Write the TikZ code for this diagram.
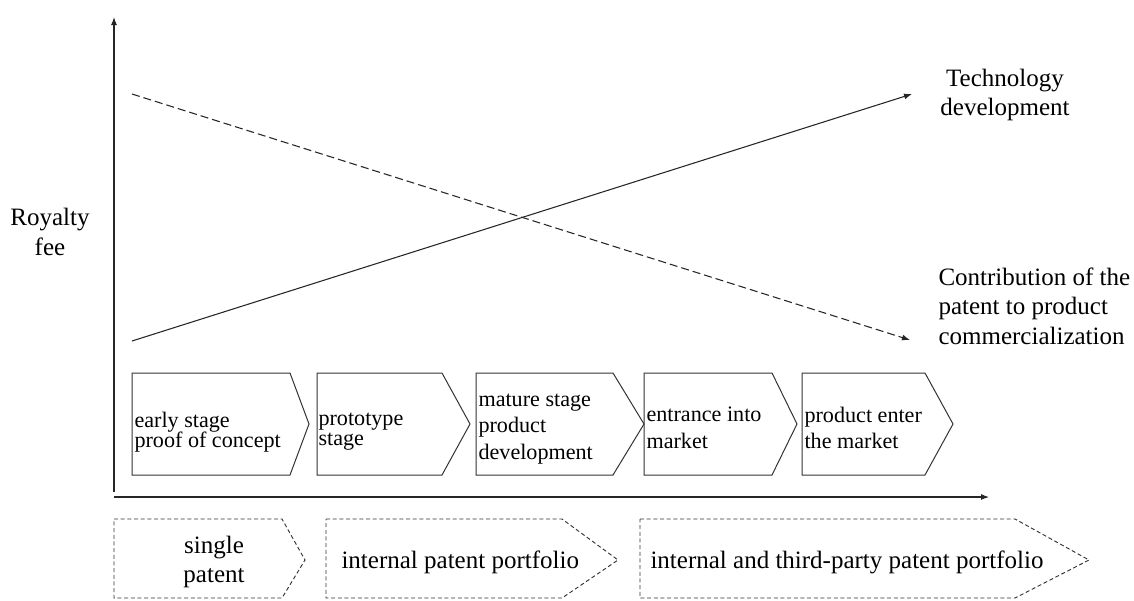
\documentclass[tikz,border=0pt]{standalone}
\usepackage{fontspec}
\newfontfamily\timesfont{Liberation Serif}
\usetikzlibrary{arrows.meta}

\newcommand{\stagefont}[1]{\timesfont\fontsize{16.6}{#1}\selectfont\lineskiplimit-20pt\relax}

\begin{document}
\begin{tikzpicture}[x=0.75pt, y=-0.75pt, line width=0.8pt,
  axis/.style={draw=black!85, -{Latex[length=6pt,width=4.5pt]}},
  trend/.style={draw=black!85, -{Latex[length=6pt,width=4.5pt]}},
  stagebox/.style={draw=black!80, line width=0.75pt},
  patentbox/.style={draw=black!80, line width=0.7pt, dash pattern=on 3pt off 2pt},
  lbl/.style={inner sep=0pt, align=center, font=\timesfont\fontsize{18.75}{22}\selectfont},
  tighttext/.style={anchor=west, inner sep=0pt, align=left, font={\stagefont{15}}},
  loosetext/.style={anchor=west, inner sep=0pt, align=left, font={\stagefont{20}}}
]
  \useasboundingbox (0,0) rectangle (1134,600);

  % axes
  \coordinate (origin) at (114,497);
  \coordinate (ytop) at (114,17);
  \coordinate (xend) at (989,497);
  \draw[axis] (114,492) -- (ytop); % y axis
  \draw[axis] (origin) -- (xend); % x axis

  % trend lines
  \coordinate (techstart) at (132,341);
  \coordinate (techend) at (912,94);
  \coordinate (contribstart) at (132,94);
  \coordinate (contribend) at (910,340);
  \draw[trend] (techstart) -- (techend);
  \draw[trend, dash pattern=on 6pt off 3pt] (contribstart) -- (contribend);

  % labels
  \node[lbl] (royalty) at (50,232) {Royalty\\fee};
  \node[lbl] (tech) at (1005,95) {Technology\\development};
  \node[lbl, align=left, anchor=west] (contrib) at (938,306) {Contribution of the\\patent to product\\commercialization};

  % development stages
  \draw[stagebox] (132,373) -- (290,373) -- (309,424) -- (290,475) -- (132,475) -- cycle;
  \draw[stagebox] (317,373) -- (442,373) -- (470,424) -- (442,475) -- (317,475) -- cycle;
  \draw[stagebox] (476,373) -- (613,373) -- (644,424) -- (613,475) -- (476,475) -- cycle;
  \draw[stagebox] (644,373) -- (772,373) -- (797,424) -- (772,475) -- (644,475) -- cycle;
  \draw[stagebox] (802,373) -- (925,373) -- (953,424) -- (925,475) -- (802,475) -- cycle;

  \node[tighttext] (early) at (134,432) {early stage\\proof of concept};
  \node[tighttext] (proto) at (318,432) {prototype\\stage};
  \node[loosetext] (mature) at (478,429) {mature stage\\product\\development};
  \node[loosetext] (entrance) at (646,428) {entrance into\\market};
  \node[loosetext] (enter) at (804,428) {product enter\\the market};

  % patent types
  \draw[patentbox] (114,519) -- (282,519) -- (305,560) -- (282,598) -- (114,598) -- cycle;
  \draw[patentbox] (326,519) -- (562,519) -- (618,560) -- (562,598) -- (326,598) -- cycle;
  \draw[patentbox] (640,519) -- (1015,519) -- (1089,560) -- (1015,598) -- (640,598) -- cycle;

  \node[lbl] (single) at (214,562) {single\\patent};
  \node[lbl, anchor=west] (internal) at (341,562) {internal patent portfolio};
  \node[lbl, anchor=west] (thirdparty) at (650,562) {internal and third-party patent portfolio};

\end{tikzpicture}
\end{document}
